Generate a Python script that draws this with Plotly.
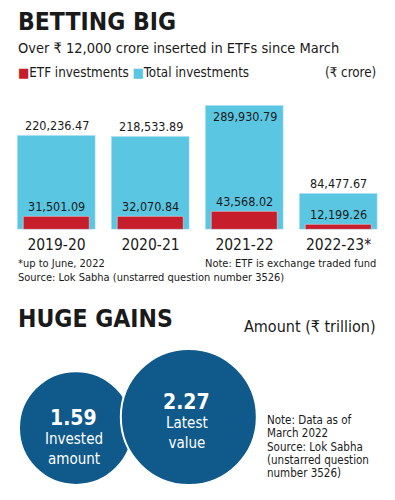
import plotly.graph_objects as go
import math

# ---------------- data ----------------
years = ["2019-20", "2020-21", "2021-22", "2022-23*"]
etf_investments = [31501.09, 32070.84, 43568.02, 12199.26]
total_investments = [220236.47, 218533.89, 289930.79, 84477.67]

gain_labels = ["Invested<br>amount", "Latest<br>value"]
gain_values = [1.59, 2.27]

# ---------------- style ----------------
W, H = 395, 500
FONT = "DejaVu Sans Condensed, Roboto, sans-serif"
RED = "#c61f2b"
BLUE = "#5bc6e2"
NAVY = "#0f5a8b"
INK = "#1a1a1a"


def px(x):
    return x / W


def py(y):
    return 1 - y / H


fig = go.Figure()

# bars
fig.add_trace(go.Bar(x=years, y=total_investments, marker_color=BLUE, width=0.82,
                     showlegend=False, xaxis="x", yaxis="y", hoverinfo="skip"))
fig.add_trace(go.Bar(x=years, y=etf_investments, marker_color=RED, width=0.70,
                     showlegend=False, xaxis="x", yaxis="y", hoverinfo="skip"))

YMAX = 300000
annotations = []
for cat, tot, etf in zip(years, total_investments, etf_investments):
    inside = tot > 0.9 * YMAX
    annotations.append(dict(x=cat, y=tot, xref="x", yref="y", text=f"{tot:,.2f}",
                            showarrow=False, yanchor="middle",
                            yshift=-11 if inside else 10,
                            font=dict(family=FONT, size=12.5, color=INK)))
    annotations.append(dict(x=cat, y=etf, xref="x", yref="y", text=f"{etf:,.2f}",
                            showarrow=False, yanchor="middle", yshift=10,
                            font=dict(family=FONT, size=12.5, color=INK)))

# circles (area proportional, bottoms aligned)
R_MAX = 68
vmax = max(gain_values)
radii = [R_MAX * math.sqrt(v / vmax) for v in gain_values]
BOTTOM = 485
cx = []
left = 19
for i, r in enumerate(radii):
    if i == 0:
        cx.append(left + r)
    else:
        cx.append(cx[-1] + radii[i - 1] + r - 12)
cy = [BOTTOM - r for r in radii]

fig.add_trace(go.Scatter(x=cx, y=cy, mode="markers", xaxis="x2", yaxis="y2",
                         marker=dict(size=[2 * r for r in radii], color=NAVY, opacity=1,
                                     line=dict(color="white", width=2)),
                         showlegend=False, hoverinfo="skip"))

value_dy = [-12, -17]
label_dy = [20, 15]
for i, (lab, v) in enumerate(zip(gain_labels, gain_values)):
    annotations.append(dict(x=cx[i] - 2, y=cy[i] + value_dy[i] + 2, xref="x2", yref="y2",
                            text=f"<b>{v:.2f}</b>", showarrow=False,
                            font=dict(family=FONT, size=21, color="white")))
    annotations.append(dict(x=cx[i] - 2, y=cy[i] + label_dy[i] + 1, xref="x2", yref="y2",
                            text=lab, showarrow=False,
                            font=dict(family=FONT, size=15, color="white")))


def txt(x, y, text, size, anchor="left", bold=False, color=INK):
    annotations.append(dict(x=px(x), y=py(y), xref="paper", yref="paper", text=text,
                            showarrow=False, xanchor=anchor, yanchor="middle",
                            font=dict(family=FONT, size=size, color=color,
                                      weight="bold" if bold else "normal")))


txt(16, 21, "BETTING BIG", 24.5, bold=True)
txt(16, 48, "Over ₹ 12,000 crore inserted in ETFs since March", 14.5)
txt(16, 72, f'<span style="color:{RED}">■</span>ETF investments '
            f'<span style="color:{BLUE}">■</span>Total investments', 13.3)
txt(378, 72, "(₹ crore)", 13.3, anchor="right")

txt(16, 263, "*up to June, 2022", 11)
txt(378, 263, "Note: ETF is exchange traded fund", 11, anchor="right")
txt(16, 277, "Source: Lok Sabha (unstarred question number 3526)", 11)

txt(16, 318, "HUGE GAINS", 24.5, bold=True)
txt(378, 326, "Amount (₹ trillion)", 16, anchor="right")

txt(265, 420, "Note: Data as of", 11.5)
txt(265, 433, "March 2022", 11.5)
txt(265, 447, "Source: Lok Sabha", 11.5)
txt(265, 460, "(unstarred question", 11.5)
txt(265, 473, "number 3526)", 11.5)

fig.update_layout(
    width=W, height=H, margin=dict(l=0, r=0, t=0, b=0),
    paper_bgcolor="white", plot_bgcolor="rgba(0,0,0,0)",
    barmode="overlay", bargap=0,
    xaxis=dict(domain=[px(9.5), px(385.5)], range=[-0.5, 3.5], type="category",
               categoryarray=years, showgrid=False, zeroline=False, showline=False,
               ticks="", tickfont=dict(family=FONT, size=15.5, color=INK),
               ticklabelstandoff=3,
               anchor="y", fixedrange=True),
    yaxis=dict(domain=[py(230), py(230 - 0.428 * 300)], range=[0, YMAX], visible=False,
               anchor="x", fixedrange=True),
    xaxis2=dict(domain=[0, 1], range=[0, W], visible=False, anchor="y2", fixedrange=True),
    yaxis2=dict(domain=[0, 1], range=[H, 0], visible=False, anchor="x2", fixedrange=True),
    annotations=annotations,
)

fig.write_html("out.html", config={"displayModeBar": False},
               post_script="document.body.style.margin='0';document.body.style.overflow='hidden';")
